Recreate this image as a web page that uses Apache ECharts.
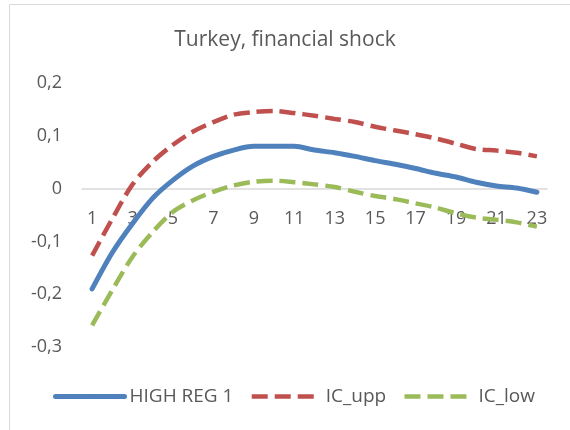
<!DOCTYPE html>
<html>
<head>
<meta charset="utf-8">
<script src="https://cdn.jsdelivr.net/npm/echarts@6/dist/echarts.min.js"></script>
<style>
  html, body { margin: 0; padding: 0; background: #fff; }
  #chart { width: 570px; height: 430px; }
</style>
</head>
<body>
<div id="chart"></div>
<script>
// horizon 1..23
var periods = [];
for (var i = 1; i <= 23; i++) periods.push(String(i));

var highReg = [-0.190, -0.121, -0.066, -0.018, 0.016, 0.043, 0.061, 0.073, 0.080, 0.080, 0.080,
  0.073, 0.068, 0.061, 0.053, 0.046, 0.038, 0.029, 0.022, 0.012, 0.005, 0.001, -0.007];
var icUpp = [-0.127, -0.057, 0.008, 0.051, 0.083, 0.108, 0.126, 0.140, 0.145, 0.147, 0.143,
  0.138, 0.132, 0.126, 0.117, 0.110, 0.103, 0.095, 0.085, 0.075, 0.072, 0.068, 0.061];
var icLow = [-0.259, -0.192, -0.129, -0.082, -0.044, -0.022, -0.006, 0.006, 0.013, 0.015, 0.012,
  0.008, 0.003, -0.006, -0.014, -0.020, -0.028, -0.036, -0.047, -0.055, -0.059, -0.064, -0.072];

var yMin = -0.3, yMax = 0.2;

var font = '"Open Sans", Lato, sans-serif';
var txt = '#595959';
var blue = '#4f81bd', red = '#c0504d', green = '#9bbb59';
var dash = [16, 7];

var gridTop = 83, gridBottom = 83, H = 430;
// put the category axis on the zero line
var zeroOffset = -(H - gridTop - gridBottom) * (0 - yMin) / (yMax - yMin);

var chart = echarts.init(document.getElementById('chart'));
chart.setOption({
  animation: false,
  textStyle: { fontFamily: font, color: txt },
  graphic: [{
    type: 'rect',
    shape: { x: 9.5, y: 4.5, width: 580, height: 440 },
    style: { fill: 'none', stroke: '#d9d9d9', lineWidth: 1 }
  }],
  title: {
    text: 'Turkey, financial shock',
    left: 'center',
    top: 30,
    padding: 0,
    textStyle: { fontFamily: font, fontSize: 21, fontWeight: 'normal', color: txt }
  },
  legend: {
    left: 53,
    top: 387,
    padding: 0,
    itemWidth: 69,
    itemHeight: 1,
    itemGap: 16,
    textStyle: { fontFamily: font, fontSize: 19, color: txt },
    data: [
      { name: 'HIGH REG 1', lineStyle: { width: 5, cap: 'round' } },
      { name: 'IC_upp', lineStyle: { width: 4.5, type: dash } },
      { name: 'IC_low', lineStyle: { width: 4.5, type: dash } }
    ]
  },
  grid: { left: 82, right: 23, top: gridTop, bottom: gridBottom },
  xAxis: {
    type: 'category',
    data: periods,
    offset: zeroOffset,
    z: 0,
    axisLine: { onZero: false, lineStyle: { color: '#d9d9d9', width: 1.5 } },
    axisTick: { show: false },
    axisLabel: { interval: 1, margin: 21, fontSize: 18, color: txt, fontFamily: font }
  },
  yAxis: {
    type: 'value',
    min: yMin,
    max: yMax,
    interval: 0.1,
    splitLine: { show: false },
    axisLine: { show: false },
    axisTick: { show: false },
    axisLabel: {
      margin: 20, fontSize: 18, color: txt, fontFamily: font,
      formatter: function (v) {
        var r = Math.round(v * 10) / 10;
        return r === 0 ? '0' : String(r).replace('.', ',');
      }
    }
  },
  series: [
    {
      name: 'HIGH REG 1', type: 'line', data: highReg, smooth: 0.3,
      symbol: 'none', z: 5,
      lineStyle: { color: blue, width: 5, cap: 'round' },
      itemStyle: { color: blue }
    },
    {
      name: 'IC_upp', type: 'line', data: icUpp, smooth: 0.3,
      symbol: 'none', z: 4,
      lineStyle: { color: red, width: 4.5, type: dash },
      itemStyle: { color: red }
    },
    {
      name: 'IC_low', type: 'line', data: icLow, smooth: 0.3,
      symbol: 'none', z: 4,
      lineStyle: { color: green, width: 4.5, type: dash },
      itemStyle: { color: green }
    }
  ]
});
</script>
</body>
</html>
